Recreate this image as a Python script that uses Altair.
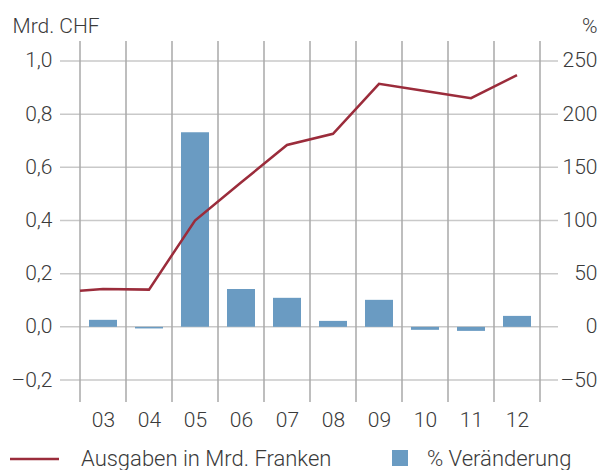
import json
import altair as alt
import pandas as pd

# ---- data ----
years = ["03", "04", "05", "06", "07", "08", "09", "10", "11", "12"]
ausgaben = [0.142, 0.140, 0.400, 0.543, 0.684, 0.726, 0.914, 0.887, 0.860, 0.947]
ausgaben_start = 0.136  # line starts at left edge of first category
pct = [6.6, -1.5, 183.0, 35.7, 27.3, 5.6, 25.4, -2.8, -3.8, 10.3]
left_ticks = [-0.2, 0.0, 0.2, 0.4, 0.6, 0.8, 1.0]
right_ticks = [-50, 0, 50, 100, 150, 200, 250]
legend_labels = ["Ausgaben in Mrd. Franken", "% Veränderung"]

FONT = "Roboto"
TXT = "#3a3a3a"
LINE_C = "#9b2c3b"
BAR_C = "#6a9bc2"
FS = 21
W, H = 460, 361
ydom = [-0.2827, 1.0752]
ydom_r = [v * 250 for v in ydom]

idx = list(range(len(years)))
bars_df = pd.DataFrame({"i": idx, "pct": pct})
line_df = pd.DataFrame({"i": [-0.5] + idx, "v": [ausgaben_start] + ausgaben})
hgrid_df = pd.DataFrame({"v": left_ticks})
vgrid_df = pd.DataFrame({"i": [k - 0.5 for k in range(len(years) + 1)]})

xscale = alt.Scale(domain=[-0.5, len(years) - 0.5], nice=False, zero=False, padding=0)
x_axis = alt.Axis(
    values=idx,
    labelExpr=json.dumps(years) + "[datum.value]",
    domain=False, ticks=False, grid=False, title=None,
    labelFont=FONT, labelFontSize=FS, labelFontWeight=300, labelColor=TXT,
    labelBaseline="middle", labelPadding=18, labelAngle=0,
)
x_enc = alt.X("i:Q", scale=xscale, axis=x_axis)

left_axis = alt.Axis(
    orient="left", values=left_ticks,
    labelExpr="(datum.value < 0 ? '–' : '') + replace(format(abs(datum.value), '.1f'), '.', ',')",
    domain=False, ticks=False, grid=False,
    labelFont=FONT, labelFontSize=FS, labelFontWeight=300, labelColor=TXT,
    labelPadding=28, labelBaseline="middle",
    title="Mrd. CHF", titleAngle=0, titleAlign="left", titleBaseline="middle",
    titleX=-68, titleY=-15, titleFont=FONT, titleFontSize=FS,
    titleFontWeight=300, titleColor=TXT,
)
right_axis = alt.Axis(
    orient="right", values=right_ticks,
    labelExpr="(datum.value < 0 ? '–' : '') + format(abs(datum.value), 'd')",
    domain=False, ticks=False, grid=False,
    labelFont=FONT, labelFontSize=FS, labelFontWeight=300, labelColor=TXT,
    labelPadding=57, labelAlign="right", labelBaseline="middle",
    title="%", titleAngle=0, titleAlign="right", titleBaseline="middle",
    titleX=57, titleY=-15, titleFont=FONT, titleFontSize=FS,
    titleFontWeight=300, titleColor=TXT,
)

yl = alt.Scale(domain=ydom, nice=False, zero=False, padding=0)
yr = alt.Scale(domain=ydom_r, nice=False, zero=False, padding=0)

hgrid = alt.Chart(hgrid_df).mark_rule(color="#c9c9c9", strokeWidth=1.5).encode(
    y=alt.Y("v:Q", scale=yl, axis=left_axis),
    x=alt.value(-20), x2=alt.value(478),
)
vgrid = alt.Chart(vgrid_df).mark_rule(color="#a8a8a8", strokeWidth=1.5).encode(
    x=x_enc, y=alt.value(0), y2=alt.value(H),
)
bars = alt.Chart(bars_df).mark_bar(size=28, color=BAR_C).encode(
    x=x_enc,
    y=alt.Y("pct:Q", scale=yr, axis=right_axis),
)
line = alt.Chart(line_df).mark_line(color=LINE_C, strokeWidth=2.5).encode(
    x=x_enc,
    y=alt.Y("v:Q", scale=yl, axis=None),
)

# legend (manual)
LB = 425  # text baseline, relative to plot top
leg_line = alt.Chart(pd.DataFrame({"k": [0]})).mark_rule(color=LINE_C, strokeWidth=2.5).encode(
    x=alt.value(-70), x2=alt.value(-21), y=alt.value(418),
)
leg_sq = alt.Chart(pd.DataFrame({"k": [0]})).mark_rect(color=BAR_C).encode(
    x=alt.value(312), x2=alt.value(328), y=alt.value(409), y2=alt.value(425),
)
leg_t1 = alt.Chart(pd.DataFrame({"t": [legend_labels[0]]})).mark_text(
    align="left", baseline="alphabetic", font=FONT, fontSize=22, fontWeight=300, color=TXT,
).encode(x=alt.value(1), y=alt.value(LB), text="t:N")
leg_t2 = alt.Chart(pd.DataFrame({"t": [legend_labels[1]]})).mark_text(
    align="left", baseline="alphabetic", font=FONT, fontSize=22, fontWeight=300, color=TXT,
).encode(x=alt.value(347), y=alt.value(LB), text="t:N")

chart = (
    alt.layer(hgrid, vgrid, bars, line, leg_line, leg_sq, leg_t1, leg_t2)
    .resolve_scale(y="independent")
    .properties(
        width=W, height=H,
        padding={"left": 72, "top": 33, "right": 58, "bottom": 74},
        autosize=alt.AutoSizeParams(type="none"),
        background="white",
    )
    .configure_view(stroke=None)
)

chart.save("out.html", embed_options={"renderer": "svg", "actions": False})
